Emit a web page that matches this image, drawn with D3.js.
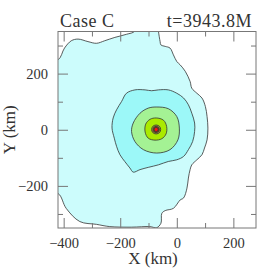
<!DOCTYPE html>
<html>
<head>
<meta charset="utf-8">
<script src="https://cdn.jsdelivr.net/npm/d3@7"></script>
<style>
  body { margin: 0; background: #fff; }
  text { font-family: "Liberation Serif", "DejaVu Serif", serif; fill: #333; }
</style>
</head>
<body>
<div id="chart"></div>
<script>
// contour levels, outermost first; points are [x km, y km]
const levelColors = ["#ccfcfc", "#9cf8f8", "#a4f294", "#aaea00", "#9c9a30", "#7a3c20", "#ff1010"];

const level1 = [[-479, 249], [-420, 249], [-397, 291], [-373, 317], [-349, 323], [-314, 314], [-284, 308],
  [-255, 317], [-219, 329], [-178, 340], [-148, 352], [-142, 409], [-71, 409], [-65, 352], [-59, 314],
  [-56, 302], [-41, 297], [-24, 291], [-12, 267], [0, 243], [12, 231], [30, 208], [47, 172], [53, 148],
  [71, 130], [89, 113], [101, 83], [107, 47], [110, 6], [107, -36], [98, -65], [89, -89], [71, -107],
  [53, -125], [47, -142], [41, -172], [36, -208], [24, -243], [12, -250], [-12, -280], [-41, -288],
  [-53, -298], [-56, -333], [-71, -349], [-95, -345], [-160, -347], [-237, -345], [-284, -337],
  [-343, -327], [-391, -280], [-420, -227], [-479, -227]];

const level2 = [[-178, 130], [-148, 142], [-112, 142], [-89, 139], [-65, 142], [-30, 142], [0, 130],
  [24, 113], [41, 89], [53, 59], [63, 24], [63, -6], [56, -42], [41, -71], [24, -95], [0, -107],
  [-30, -113], [-65, -125], [-101, -134], [-130, -142], [-154, -151], [-166, -136], [-184, -113],
  [-201, -89], [-213, -59], [-221, -30], [-229, 6], [-225, 42], [-213, 71], [-195, 101]];

const level3 = [[-73, 81], [-30, 75], [0, 47], [9, 6], [4, -36], [-24, -71], [-71, -83], [-118, -71],
  [-148, -42], [-160, -6], [-154, 24], [-130, 59], [-101, 77]];

const level4 = [[-73, 42], [-47, 34], [-36, 12], [-38, -15], [-53, -32], [-77, -37], [-101, -30],
  [-112, -8], [-110, 20], [-95, 37]];

const level5 = [[-73, 17], [-61, 12], [-57, 1], [-61, -10], [-73, -15], [-85, -10], [-89, 1], [-85, 12]];
const level6 = [[-73, 12], [-65, 9], [-62, 1], [-65, -7], [-73, -10], [-81, -7], [-84, 1], [-81, 9]];
const level7 = [[-73, 8], [-68, 6], [-66, 1], [-68, -4], [-73, -6], [-78, -4], [-80, 1], [-78, 6]];

const levels = [level1, level2, level3, level4, level5, level6, level7];

const xMajor = [-400, -200, 0, 200], xMinor = [-300, -100, 100];
const yMajor = [-200, 0, 200], yMinor = [-300, -100, 100, 300];

const titleLeft = "Case C", titleRight = "t=3943.8M";
const xLabel = "X (km)", yLabel = "Y (km)";

const W = 270, H = 270;
const plotL = 58, plotR = 256, plotT = 31.5, plotB = 228;

const x = d3.scaleLinear().domain([-420, 280]).range([plotL, plotR]);
const y = d3.scaleLinear().domain([-350, 350]).range([plotB, plotT]);

const svg = d3.select("#chart").append("svg")
    .attr("width", W)
    .attr("height", H);

svg.append("defs").append("clipPath").attr("id", "plot")
    .append("rect")
    .attr("x", plotL).attr("y", plotT)
    .attr("width", plotR - plotL).attr("height", plotB - plotT);

const line = d3.line()
    .x(d => x(d[0]))
    .y(d => y(d[1]))
    .curve(d3.curveCatmullRomClosed.alpha(0.5));

svg.append("g")
    .attr("clip-path", "url(#plot)")
    .selectAll("path")
    .data(levels)
    .enter().append("path")
    .attr("d", line)
    .attr("fill", (d, i) => levelColors[i])
    .attr("stroke", "#333")
    .attr("stroke-width", 0.8);

// axes: major and minor ticks point inward
function addAxis(axisFn, scale, values, size, tr, labels) {
    const ax = axisFn(scale).tickValues(values).tickSizeInner(-size).tickSizeOuter(0);
    if (labels) ax.tickPadding(10).tickFormat(d => d < 0 ? "\u2212" + Math.abs(d) : d);
    else ax.tickFormat("");
    const g = svg.append("g").attr("transform", tr).call(ax);
    g.select(".domain").remove();
    g.selectAll("line").attr("stroke", "#777");
    g.attr("font-family", null);
    g.selectAll("text").attr("font-size", 14.5).attr("fill", "#333");
    return g;
}

addAxis(d3.axisBottom, x, xMajor, 10, `translate(0,${plotB})`, true);
addAxis(d3.axisBottom, x, xMinor, 5, `translate(0,${plotB})`, false);
addAxis(d3.axisTop, x, xMajor, 10, `translate(0,${plotT})`, false);
addAxis(d3.axisTop, x, xMinor, 5, `translate(0,${plotT})`, false);
addAxis(d3.axisLeft, y, yMajor, 10, `translate(${plotL},0)`, true);
addAxis(d3.axisLeft, y, yMinor, 5, `translate(${plotL},0)`, false);
addAxis(d3.axisRight, y, yMajor, 10, `translate(${plotR},0)`, false);
addAxis(d3.axisRight, y, yMinor, 5, `translate(${plotR},0)`, false);

svg.append("rect")
    .attr("x", plotL).attr("y", plotT)
    .attr("width", plotR - plotL).attr("height", plotB - plotT)
    .attr("fill", "none")
    .attr("stroke", "#777");

svg.append("text")
    .attr("x", 60).attr("y", 27)
    .attr("font-size", 18)
    .attr("letter-spacing", 0.5)
    .text(titleLeft);

svg.append("text")
    .attr("x", 252).attr("y", 27)
    .attr("text-anchor", "end")
    .attr("font-size", 18)
    .attr("letter-spacing", 0.5)
    .text(titleRight);

svg.append("text")
    .attr("x", (plotL + plotR) / 2 - 4).attr("y", 264)
    .attr("text-anchor", "middle")
    .attr("font-size", 17)
    .text(xLabel);

svg.append("text")
    .attr("transform", `translate(15,${(plotT + plotB) / 2}) rotate(-90)`)
    .attr("text-anchor", "middle")
    .attr("font-size", 17)
    .text(yLabel);
</script>
</body>
</html>
